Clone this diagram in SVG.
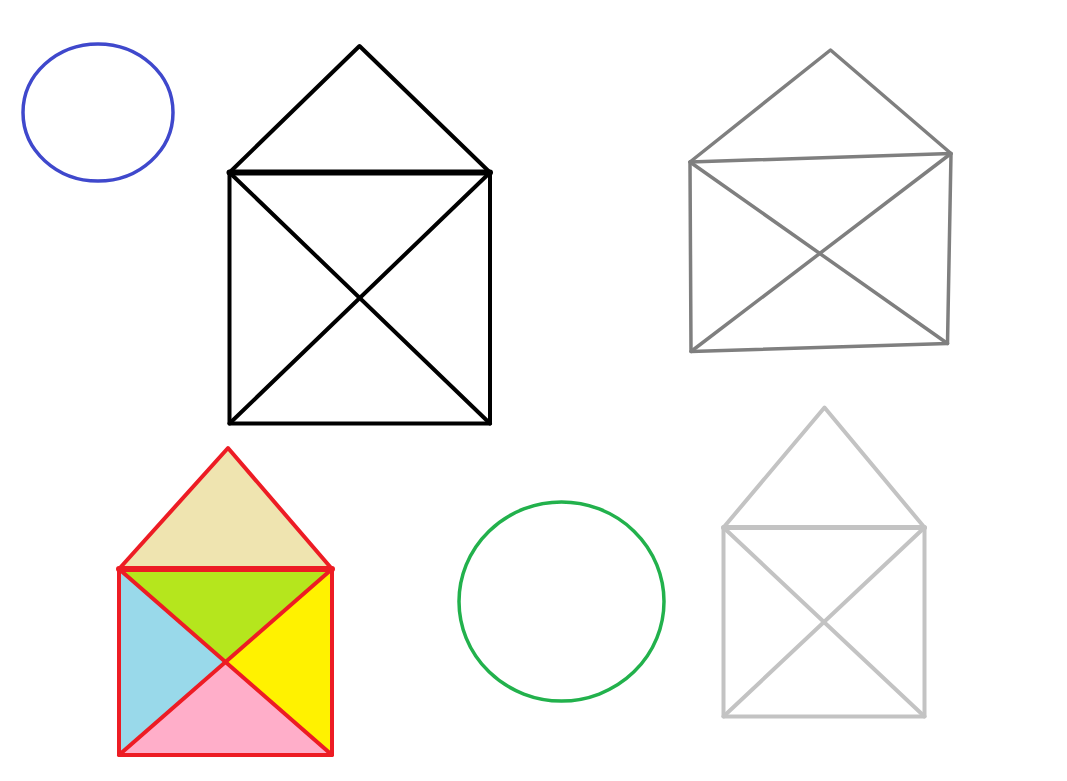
<svg xmlns="http://www.w3.org/2000/svg" width="1067" height="781" viewBox="0 0 1067 781">
<style>
.s{fill:none;stroke-width:4;stroke-linejoin:round;stroke-linecap:round}
.k{stroke:#000}
.g{stroke:#7f7f7f;stroke-width:3.5}
.l{stroke:#c3c3c3}
.r{stroke:#ed1c24}
</style>
<rect width="1067" height="781" fill="#fff"/>
<g id="blue-ellipse"><ellipse cx="98" cy="112.5" rx="75" ry="68.5" fill="none" stroke="#3f48cc" stroke-width="3.5"/></g>
<g id="green-circle"><ellipse cx="561.5" cy="601.5" rx="102.5" ry="99.5" fill="none" stroke="#22b14c" stroke-width="3.5"/></g>
<g id="black-house" class="s k">
<polyline points="229.5,172.5 359.5,46 490,172.5"/>
<rect x="229.5" y="172.5" width="260.5" height="251"/>
<line x1="229.5" y1="172.5" x2="490" y2="172.5" stroke-width="6"/>
<line x1="229.5" y1="172.5" x2="490" y2="423.5"/>
<line x1="490" y1="172.5" x2="229.5" y2="423.5"/>
</g>
<g id="gray-house" class="s g">
<polyline points="690,162 830.5,50 951,153.5"/>
<polygon points="690,162 951,153.5 947.5,343.5 691,351.5"/>
<line x1="690" y1="162" x2="947.5" y2="343.5"/>
<line x1="951" y1="153.5" x2="691" y2="351.5"/>
</g>
<g id="lightgray-house" class="s l">
<polyline points="723.5,527.5 824.5,407.5 924.5,527.5"/>
<rect x="723.5" y="527.5" width="201" height="189"/>
<line x1="723.5" y1="527.5" x2="924.5" y2="527.5" stroke-width="5"/>
<line x1="723.5" y1="527.5" x2="924.5" y2="716.5"/>
<line x1="924.5" y1="527.5" x2="723.5" y2="716.5"/>
</g>
<g id="colored-house">
<polygon points="119,569 228,448 332,569" fill="#efe4b0"/>
<polygon points="119,569 332,569 224.5,663" fill="#b5e61d"/>
<polygon points="119,569 224.5,663 119,755" fill="#99d9ea"/>
<polygon points="332,569 332,755 224.5,663" fill="#fff200"/>
<polygon points="119,755 224.5,663 332,755" fill="#ffaec9"/>
<g class="s r">
<polyline points="119,569 228,448 332,569"/>
<rect x="119" y="569" width="213" height="186"/>
<line x1="119" y1="569" x2="332" y2="569" stroke-width="6"/>
<line x1="119" y1="569" x2="332" y2="755"/>
<line x1="332" y1="569" x2="119" y2="755"/>
</g>
</g>
</svg>
